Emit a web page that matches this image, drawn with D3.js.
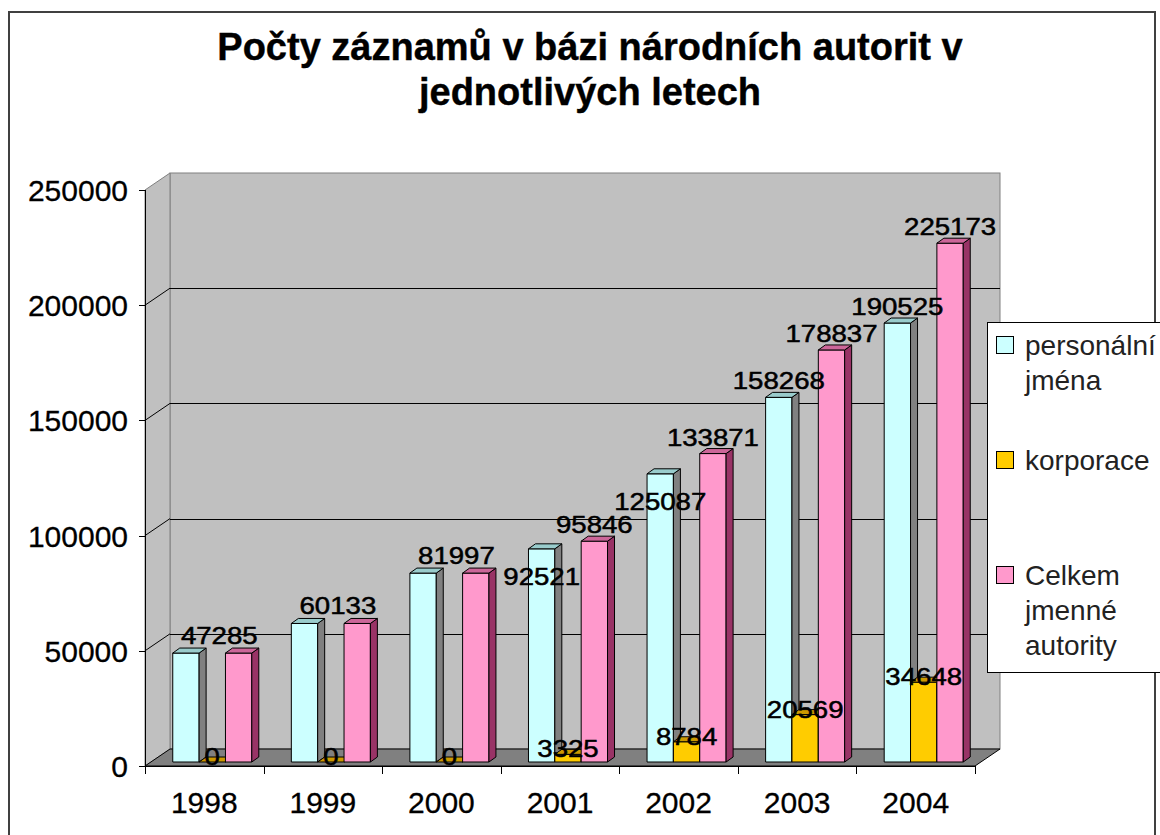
<!DOCTYPE html>
<html>
<head>
<meta charset="utf-8">
<script src="https://cdn.jsdelivr.net/npm/d3@7/dist/d3.min.js"></script>
<style>
  html, body { margin: 0; padding: 0; background: #fff; }
  svg { display: block; }
  text { font-family: "Liberation Sans", Arial, sans-serif; }
</style>
</head>
<body>
<svg id="chart" width="1160" height="835"></svg>
<script>
// ---- data ----
const years = ["1998", "1999", "2000", "2001", "2002", "2003", "2004"];
const personalni = [47285, 60133, 81997, 92521, 125087, 158268, 190525];
const korporace = [0, 0, 0, 3325, 8784, 20569, 34648];
const celkem = [47285, 60133, 81997, 95846, 133871, 178837, 225173];
const seriesKeys = ["personalni", "korporace", "celkem"];
const legendLines = [["personální", "jména"], ["korporace"], ["Celkem", "jmenné", "autority"]];
const yTicks = [0, 50000, 100000, 150000, 200000, 250000];
const titleLines = ["Počty záznamů v bázi národních autorit v", "jednotlivých letech"];

// ---- style ----
const colors = {
  personalni: { front: "#CCFFFF", top: "#99CCCC", side: "#808080" },
  korporace:  { front: "#FFCC00", top: "#CC9900", side: "#997700" },
  celkem:     { front: "#FF99CC", top: "#CC6699", side: "#993366" }
};
const values = { personalni, korporace, celkem };

const svg = d3.select("#chart");

// plot geometry
const X0 = 145, X1 = 975, Y0 = 766, YT = 190;
const DX = 25, DY = -17;       // wall depth
const BDX = 8, BDY = -4;       // bar front plane offset
const DDX = 7, DDY = -5;       // bar depth

const x = d3.scaleBand().domain(years).range([X0, X1]).paddingInner(0).paddingOuter(0);
const xs = d3.scaleBand().domain(seriesKeys).range([0, x.bandwidth()]).paddingInner(0).paddingOuter(0.75);
const y = d3.scaleLinear().domain([0, 250000]).range([Y0, YT]);

// outer border
svg.append("rect").attr("x", 9).attr("y", 12).attr("width", 1146).attr("height", 840)
  .attr("fill", "#fff").attr("stroke", "#404040").attr("stroke-width", 2);

// title
svg.append("g").selectAll("text").data(titleLines).join("text")
  .attr("x", 590).attr("y", (d, i) => 60 + i * 45)
  .attr("text-anchor", "middle").attr("font-weight", "bold").attr("font-size", 38)
  .attr("fill", "#000").attr("stroke", "#000").attr("stroke-width", 0.4).text(d => d);

// walls
const g = svg.append("g");
g.append("rect").attr("x", X0 + DX).attr("y", YT + DY).attr("width", X1 - X0).attr("height", Y0 - YT)
  .attr("fill", "#C0C0C0").attr("stroke", "#808080").attr("stroke-width", 1);
g.append("path")
  .attr("d", `M${X0},${YT}L${X0 + DX},${YT + DY}L${X0 + DX},${Y0 + DY}L${X0},${Y0}Z`)
  .attr("fill", "#C0C0C0").attr("stroke", "#808080").attr("stroke-width", 1);
g.append("path")
  .attr("d", `M${X0},${Y0}L${X1},${Y0}L${X1 + DX},${Y0 + DY}L${X0 + DX},${Y0 + DY}Z`)
  .attr("fill", "#808080").attr("stroke", "#000").attr("stroke-width", 1);

// gridlines
const gridTicks = yTicks.filter(t => t > 0 && t < 250000);
g.selectAll(".gb").data(gridTicks).join("line")
  .attr("x1", X0 + DX).attr("x2", X1 + DX)
  .attr("y1", d => Math.round(y(d) + DY) + 0.5).attr("y2", d => Math.round(y(d) + DY) + 0.5)
  .attr("stroke", "#000").attr("stroke-width", 1);
g.selectAll(".gs").data(gridTicks).join("line")
  .attr("x1", X0).attr("x2", X0 + DX)
  .attr("y1", d => y(d)).attr("y2", d => y(d) + DY)
  .attr("stroke", "#000").attr("stroke-width", 1);

// y axis
g.append("line").attr("x1", X0 + 0.5).attr("x2", X0 + 0.5).attr("y1", YT).attr("y2", Y0)
  .attr("stroke", "#000").attr("stroke-width", 1);
g.selectAll(".yt").data(yTicks).join("line")
  .attr("x1", X0 - 6).attr("x2", X0)
  .attr("y1", d => Math.round(y(d)) + 0.5).attr("y2", d => Math.round(y(d)) + 0.5)
  .attr("stroke", "#000");
g.selectAll(".yl").data(yTicks).join("text")
  .attr("x", 128).attr("y", d => y(d) + 11)
  .attr("text-anchor", "end").attr("font-size", 30).attr("fill", "#000")
  .attr("stroke", "#000").attr("stroke-width", 0.3)
  .text(d => d);

// x axis
g.append("line").attr("x1", X0).attr("x2", X1).attr("y1", Y0 + 0.5).attr("y2", Y0 + 0.5)
  .attr("stroke", "#000");
const xBounds = years.map(yy => x(yy)).concat([X1]);
g.selectAll(".xt").data(xBounds).join("line")
  .attr("x1", d => Math.round(d) + 0.5).attr("x2", d => Math.round(d) + 0.5)
  .attr("y1", Y0).attr("y2", Y0 + 8).attr("stroke", "#000");
g.selectAll(".xl").data(years).join("text")
  .attr("x", d => x(d) + x.bandwidth() / 2).attr("y", 813)
  .attr("text-anchor", "middle").attr("font-size", 30).attr("fill", "#000")
  .attr("stroke", "#000").attr("stroke-width", 0.3)
  .text(d => d);

// bars
const barsG = svg.append("g").attr("stroke", "#000").attr("stroke-width", 1).attr("stroke-linejoin", "round");
const bw = xs.bandwidth();
const barInfo = [];
years.forEach((yr, i) => {
  seriesKeys.forEach(k => {
    const v = values[k][i];
    const bx = x(yr) + xs(k) + BDX;
    const yb = y(0) + BDY;
    const yt = y(v) + BDY;
    const c = colors[k];
    barInfo.push({ yr, i, k, v, bx, yt, yb, cx: bx + bw / 2 });
    barsG.append("rect").attr("x", bx).attr("y", yt).attr("width", bw).attr("height", Math.max(0, yb - yt))
      .attr("fill", c.front);
    barsG.append("path")
      .attr("d", `M${bx + bw},${yt}L${bx + bw + DDX},${yt + DDY}L${bx + bw + DDX},${yb + DDY}L${bx + bw},${yb}Z`)
      .attr("fill", c.side);
    barsG.append("path")
      .attr("d", `M${bx},${yt}L${bx + DDX},${yt + DDY}L${bx + bw + DDX},${yt + DDY}L${bx + bw},${yt}Z`)
      .attr("fill", c.top);
  });
});

// data labels
const labels = [];
const digitW = 15.3;
years.forEach((yr, i) => {
  const bc = barInfo.find(b => b.i === i && b.k === "personalni");
  const bk = barInfo.find(b => b.i === i && b.k === "korporace");
  const bp = barInfo.find(b => b.i === i && b.k === "celkem");
  if (bc.v === bp.v) {
    labels.push({ x: (bc.cx + bp.cx) / 2 + DDX, y: bp.yt - 9, t: bp.v });
  } else {
    const pl = { x: bp.cx, y: bp.yt - 8, t: bp.v };
    let cl = { x: bc.cx, y: bc.yt - 8, t: bc.v };
    const wC = String(cl.t).length * digitW, wP = String(pl.t).length * digitW;
    const hOverlap = (cl.x + wC / 2 > pl.x - wP / 2) && (cl.x - wC / 2 < pl.x + wP / 2);
    if (hOverlap && Math.abs(cl.y - pl.y) < 24) cl.y = bc.yt + 36;
    labels.push(cl, pl);
  }
  labels.push({ x: bk.cx, y: bk.yt + 3, t: bk.v });
});
svg.append("g").selectAll("text").data(labels).join("text")
  .attr("transform", d => `translate(${d.x},${d.y}) scale(1.2,1)`)
  .attr("text-anchor", "middle").attr("font-size", 23).attr("fill", "#000")
  .attr("stroke", "#000").attr("stroke-width", 0.5)
  .text(d => d.t);

// legend
const LX = 987, LY = 322, LW = 185, LH = 350;
const lg = svg.append("g");
lg.append("rect").attr("x", LX + 0.5).attr("y", LY + 0.5).attr("width", LW).attr("height", LH)
  .attr("fill", "#fff").attr("stroke", "#000");
const slot = (LH - 5) / seriesKeys.length;
seriesKeys.forEach((k, i) => {
  const base = LY + i * slot + 33;
  lg.append("rect").attr("x", LX + 9.5).attr("y", base - 18.5).attr("width", 17).attr("height", 17)
    .attr("fill", colors[k].front).attr("stroke", "#000").attr("stroke-width", 1);
  legendLines[i].forEach((ln, j) => {
    lg.append("text").attr("x", LX + 38).attr("y", base + j * 35)
      .attr("font-size", 28).attr("fill", "#222").text(ln);
  });
});
</script>
</body>
</html>
